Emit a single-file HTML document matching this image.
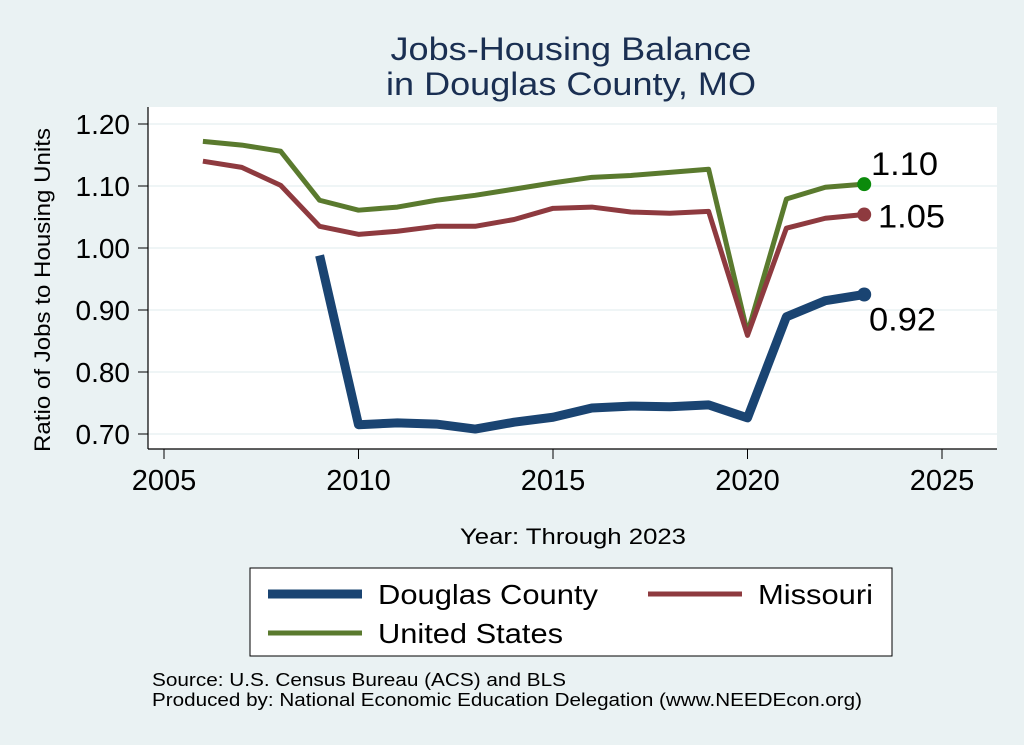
<!DOCTYPE html>
<html><head><meta charset="utf-8"><style>
body{margin:0;background:#eaf2f3;}
svg{display:block;font-family:"Liberation Sans",Arial,sans-serif;}
</style></head><body>
<svg id="chart" width="1024" height="745" viewBox="0 0 1024 745" xmlns="http://www.w3.org/2000/svg">
<rect x="0" y="0" width="1024" height="745" fill="#eaf2f3"/>
<text x="571" y="60" font-size="32" fill="#1a2f52" text-anchor="middle" textLength="361" lengthAdjust="spacingAndGlyphs">Jobs-Housing Balance</text>
<text x="571" y="95" font-size="32" fill="#1a2f52" text-anchor="middle" textLength="370" lengthAdjust="spacingAndGlyphs">in Douglas County, MO</text>
<rect x="148" y="107" width="849" height="342" fill="#fff"/>
<g id="grid"></g><g id="axes"></g>
<line x1="148" y1="107" x2="148" y2="449" stroke="#000" stroke-width="1.2"/>
<line x1="148" y1="449" x2="997" y2="449" stroke="#000" stroke-width="1.2"/>
<g id="series"></g>
<text transform="translate(50,290) rotate(-90)" font-size="22" text-anchor="middle" textLength="324" lengthAdjust="spacingAndGlyphs">Ratio of Jobs to Housing Units</text>
<text x="573" y="544" font-size="22" text-anchor="middle" textLength="226" lengthAdjust="spacingAndGlyphs">Year: Through 2023</text>
<g>
<rect x="250" y="568" width="642" height="88" fill="#fff" stroke="#000"/>
<line x1="268" y1="594" x2="362" y2="594" stroke="#1a4472" stroke-width="9"/>
<text x="378" y="604" font-size="28" textLength="220" lengthAdjust="spacingAndGlyphs">Douglas County</text>
<line x1="648" y1="594" x2="742" y2="594" stroke="#8e3a3f" stroke-width="5"/>
<text x="758" y="604" font-size="28" textLength="115" lengthAdjust="spacingAndGlyphs">Missouri</text>
<line x1="268" y1="633" x2="362" y2="633" stroke="#5a7a2e" stroke-width="5"/>
<text x="378" y="643" font-size="28" textLength="185" lengthAdjust="spacingAndGlyphs">United States</text>
</g>
<text x="152" y="686" font-size="18" textLength="414" lengthAdjust="spacingAndGlyphs">Source: U.S. Census Bureau (ACS) and BLS</text>
<text x="152" y="706" font-size="18" textLength="710" lengthAdjust="spacingAndGlyphs">Produced by: National Economic Education Delegation (www.NEEDEcon.org)</text>
</svg>
<script>
const years=[2006,2007,2008,2009,2010,2011,2012,2013,2014,2015,2016,2017,2018,2019,2020,2021,2022,2023];
const usValues=[1.172,1.166,1.156,1.077,1.061,1.066,1.077,1.085,1.095,1.105,1.114,1.117,1.122,1.127,0.863,1.079,1.098,1.103];
const moValues=[1.140,1.130,1.101,1.035,1.022,1.027,1.035,1.035,1.046,1.064,1.066,1.058,1.056,1.059,0.859,1.032,1.048,1.054];
const dcYears=[2009,2010,2011,2012,2013,2014,2015,2016,2017,2018,2019,2020,2021,2022,2023];
const dcValues=[0.988,0.715,0.718,0.716,0.708,0.719,0.727,0.742,0.745,0.744,0.747,0.726,0.889,0.915,0.925];
const xTicks=[2005,2010,2015,2020,2025];
const yTicks=[0.70,0.80,0.90,1.00,1.10,1.20];
const endLabels=["1.10","1.05","0.92"];
const NS="http://www.w3.org/2000/svg";
const xs=v=>164+(v-2005)*38.9;
const ys=v=>434-(v-0.70)*620;
function mk(tag,attrs,parent){const e=document.createElementNS(NS,tag);for(const k in attrs)e.setAttribute(k,attrs[k]);document.getElementById(parent).appendChild(e);return e;}
yTicks.forEach(t=>{
 const g=mk('line',{x1:148,x2:997,y1:ys(t),y2:ys(t),stroke:'#eaf2f3','stroke-width':1.5},'grid');
 
 
 const tk=mk('line',{x1:138,x2:148,y1:ys(t),y2:ys(t),stroke:'#000'},'axes');
 
 
 const tx=mk('text',{x:130,y:ys(t)+10,'font-size':28,'text-anchor':'end'},'axes');
 tx.textContent=t.toFixed(2);
 
 
});
xTicks.forEach(t=>{
 const tk=mk('line',{x1:xs(t),x2:xs(t),y1:449,y2:459,stroke:'#000'},'axes');
 
 
 const tx=mk('text',{x:xs(t),y:490,'font-size':29,'text-anchor':'middle'},'axes');
 tx.textContent=t;
 
 
});
function line(xsArr,vals,color,w,name){
 const p=mk('polyline',{points:xsArr.map((y,i)=>xs(y)+','+ys(vals[i])).join(' '),fill:'none',stroke:color,'stroke-width':w,'stroke-linejoin':'round'},'series');
 
 
}
line(years,usValues,'#5a7a2e',5,'us-line');
line(years,moValues,'#8e3a3f',5,'missouri-line');
line(dcYears,dcValues,'#1a4472',9,'douglas-line');
const ends=[[usValues[usValues.length-1],'#0b8a0b',-9,'us',871],[moValues[moValues.length-1],'#8e3a3f',13,'missouri',878],[dcValues[dcValues.length-1],'#1a4472',36,'douglas',869]];
ends.forEach((e,i)=>{
 const c=mk('circle',{cx:xs(2023),cy:ys(e[0]),r:7,fill:e[1]},'series');
 
 
 const t=mk('text',{x:e[4],y:ys(e[0])+e[2],'font-size':32,textLength:67,lengthAdjust:'spacingAndGlyphs'},'series');
 t.textContent=endLabels[i];
 
 
});
</script>
</body></html>
